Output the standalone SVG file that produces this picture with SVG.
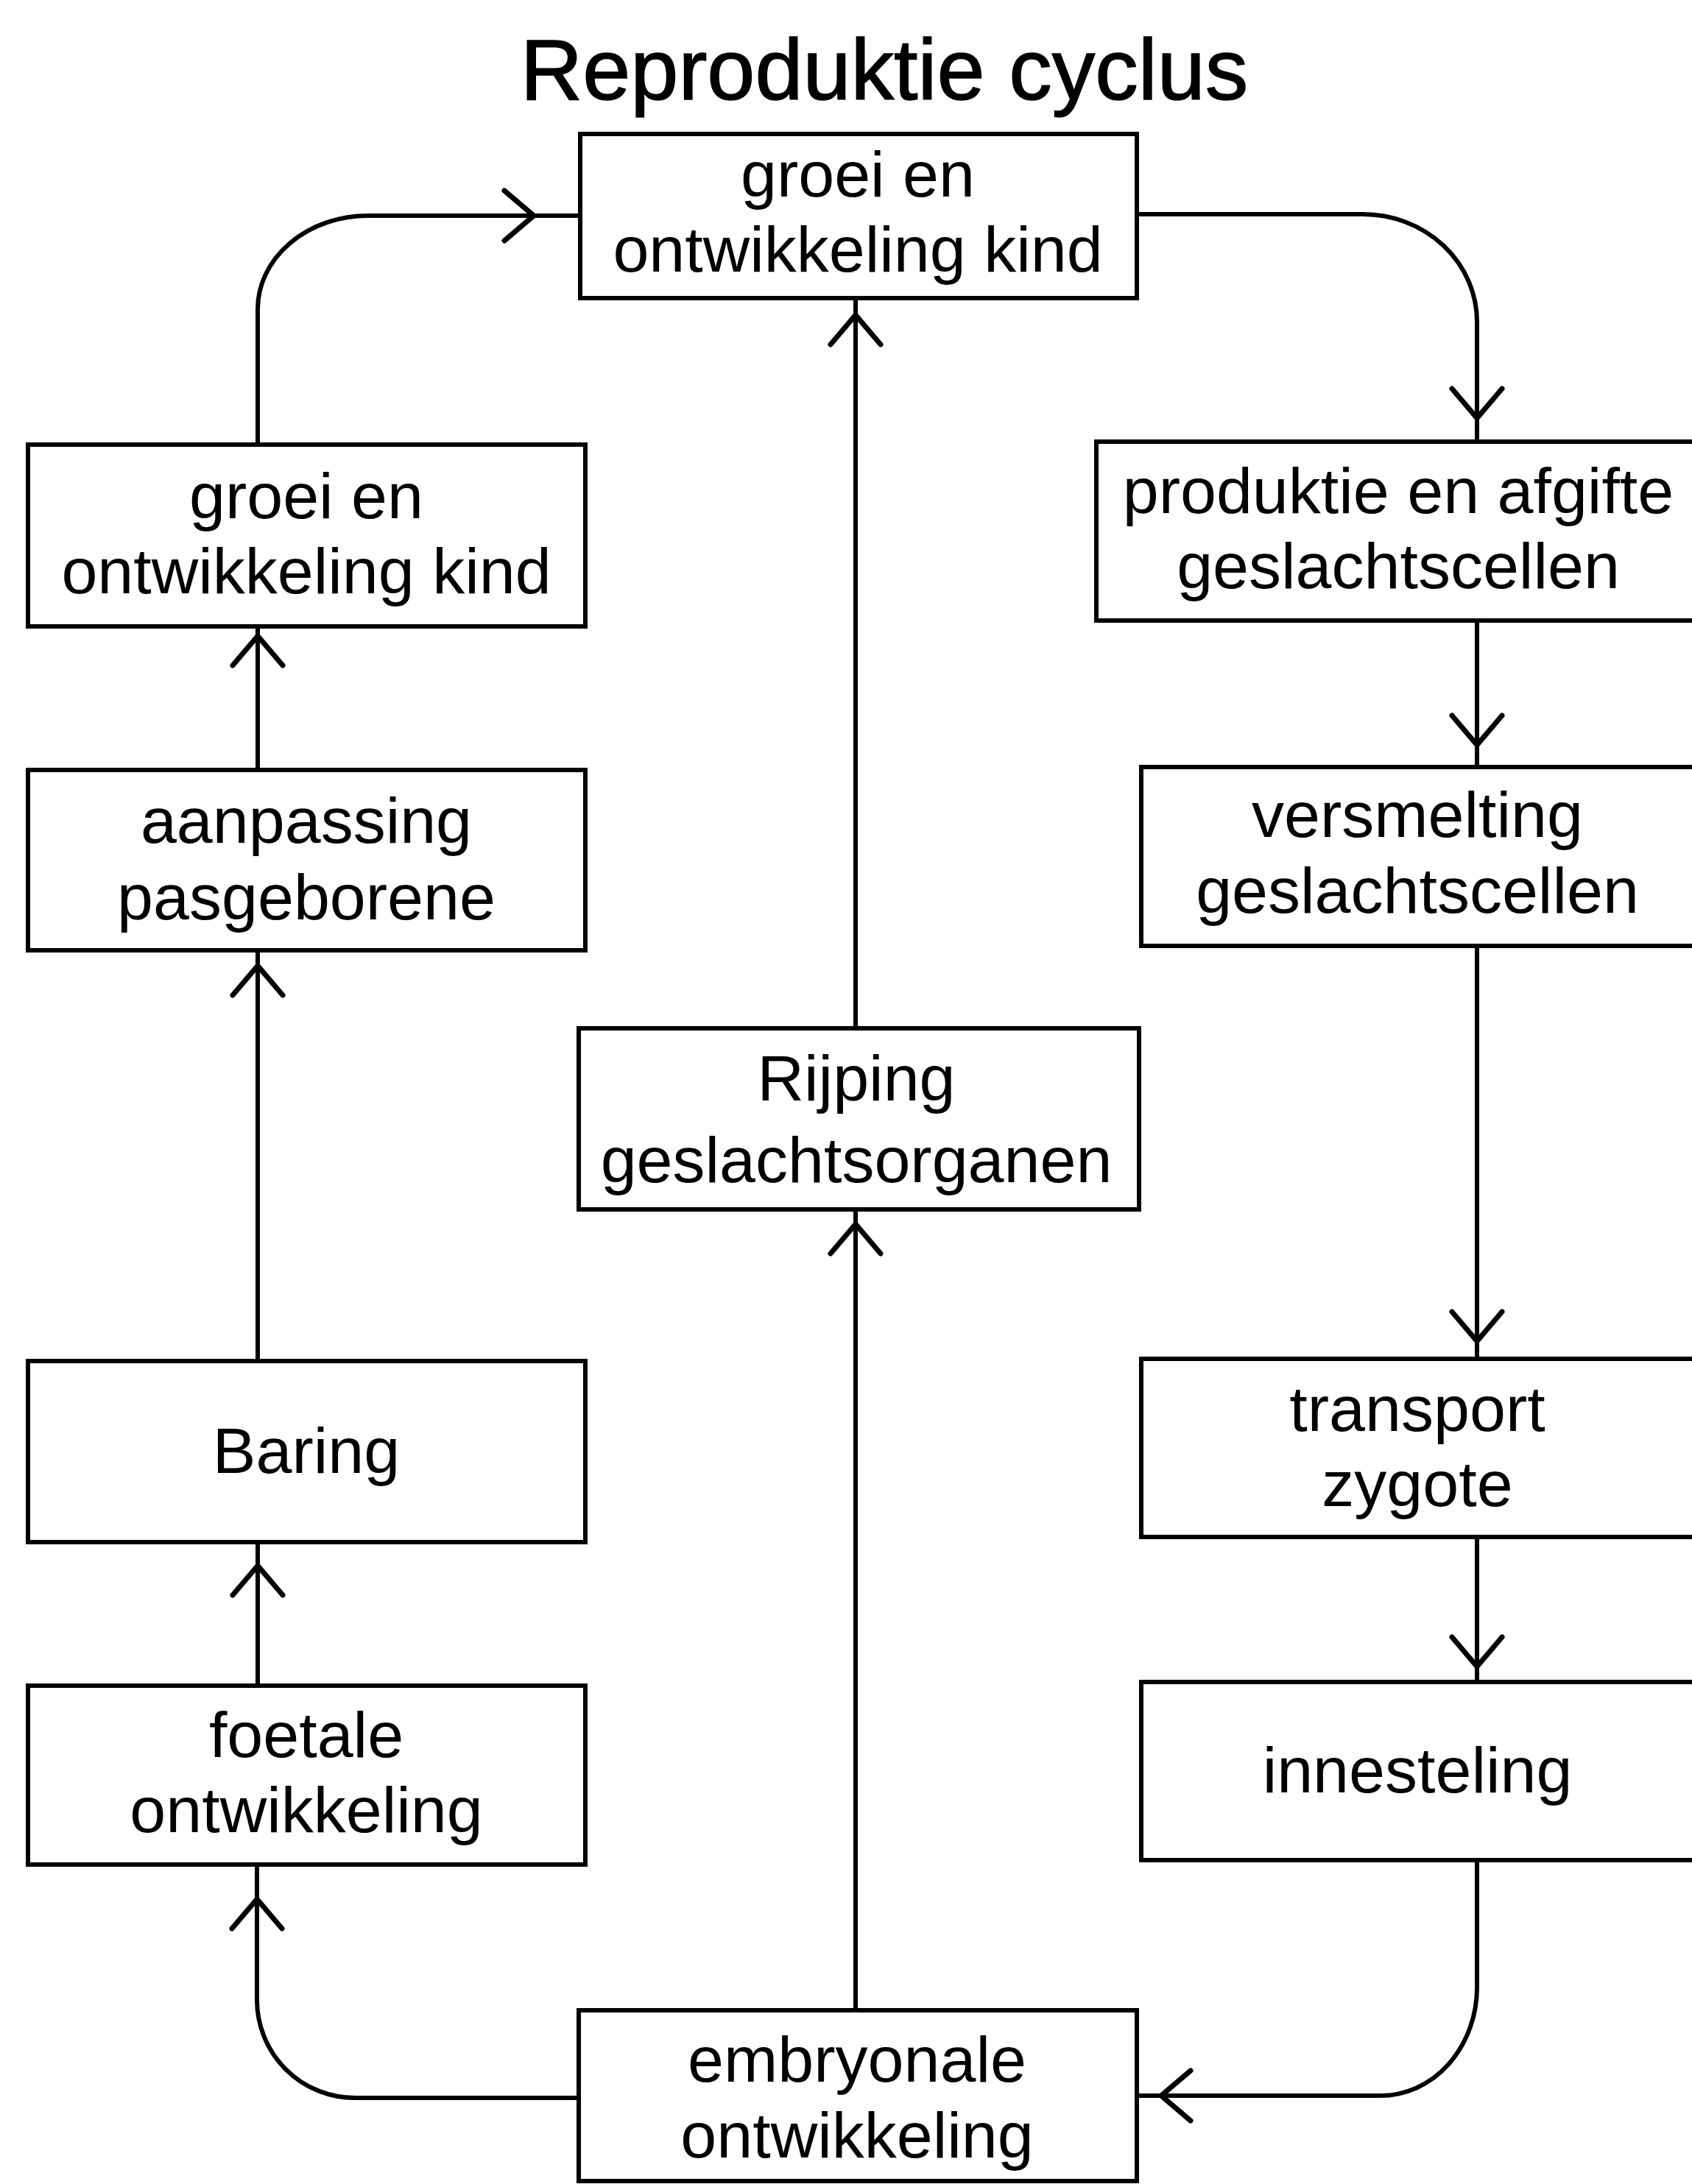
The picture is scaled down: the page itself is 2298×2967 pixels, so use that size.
<svg xmlns="http://www.w3.org/2000/svg" xmlns:xlink="http://www.w3.org/1999/xlink" width="2298" height="2967" viewBox="0 0 2298 2967">
  <style>
    .box { fill: #ffffff; stroke: #000000; stroke-width: 6; }
    .lbl { font-family: "Liberation Sans", Arial, Helvetica, sans-serif; font-size: 88px; fill: #000000; text-anchor: middle; }
    .title { font-family: "Liberation Sans", Arial, Helvetica, sans-serif; font-size: 117px; fill: #000000; text-anchor: middle; stroke: #000000; stroke-width: 1.5; }
    .line { fill: none; stroke: #000000; stroke-width: 6; }
    .head { fill: none; stroke: #000000; stroke-width: 7; stroke-linecap: round; stroke-linejoin: miter; }
  </style>
  <defs>
    <path id="chev" class="head" d="M -34 40 L 0 0 L 34 40"/>
  </defs>
  <rect x="0" y="0" width="2298" height="2967" fill="#ffffff"/>

  <text id="title" class="title" x="1201" y="135">Reproduktie cyclus</text>

  <g id="connectors">
    <path class="line" d="M350 604 L350 420 A150 127 0 0 1 500 293 L788 293"/>
    <path class="line" d="M350 1046 L350 851"/>
    <path class="line" d="M350 1849 L350 1291"/>
    <path class="line" d="M350 2290 L350 2095"/>
    <path class="line" d="M786 2850 L482 2850 A133 133 0 0 1 349 2717 L349 2533"/>
    <path class="line" d="M1544 291 L1851 291 A155 146 0 0 1 2006 437 L2006 600"/>
    <path class="line" d="M2006 843 L2006 1042"/>
    <path class="line" d="M2006 1285 L2006 1846"/>
    <path class="line" d="M2006 2088 L2006 2285"/>
    <path class="line" d="M2006 2527 L2006 2700 A131 147 0 0 1 1875 2847 L1544 2847"/>
    <path class="line" d="M1162 2731 L1162 1643"/>
    <path class="line" d="M1162 1397 L1162 405"/>

    <use xlink:href="#chev" href="#chev" transform="translate(725 293) rotate(90)"/>
    <use xlink:href="#chev" href="#chev" transform="translate(2006 568) rotate(180)"/>
    <use xlink:href="#chev" href="#chev" transform="translate(2006 1012) rotate(180)"/>
    <use xlink:href="#chev" href="#chev" transform="translate(2006 1822) rotate(180)"/>
    <use xlink:href="#chev" href="#chev" transform="translate(2006 2264) rotate(180)"/>
    <use xlink:href="#chev" href="#chev" transform="translate(1577 2847) rotate(-90)"/>
    <use xlink:href="#chev" href="#chev" transform="translate(349 2580)"/>
    <use xlink:href="#chev" href="#chev" transform="translate(350 2127)"/>
    <use xlink:href="#chev" href="#chev" transform="translate(350 1312)"/>
    <use xlink:href="#chev" href="#chev" transform="translate(350 864)"/>
    <use xlink:href="#chev" href="#chev" transform="translate(1162 1663)"/>
    <use xlink:href="#chev" href="#chev" transform="translate(1162 428)"/>
  </g>

  <g id="node-top-groei">
    <rect class="box" x="788" y="182" width="756" height="223"/>
    <text class="lbl" x="1165" y="267">groei en</text>
    <text class="lbl" x="1165" y="369">ontwikkeling kind</text>
  </g>

  <g id="node-left-groei">
    <rect class="box" x="38" y="604" width="757" height="247"/>
    <text class="lbl" x="416" y="704">groei en</text>
    <text class="lbl" x="416" y="806">ontwikkeling kind</text>
  </g>

  <g id="node-aanpassing">
    <rect class="box" x="38" y="1046" width="757" height="245"/>
    <text class="lbl" x="416" y="1145">aanpassing</text>
    <text class="lbl" x="416" y="1249">pasgeborene</text>
  </g>

  <g id="node-baring">
    <rect class="box" x="38" y="1849" width="757" height="246"/>
    <text class="lbl" x="416" y="2001">Baring</text>
  </g>

  <g id="node-foetale">
    <rect class="box" x="38" y="2290" width="757" height="243"/>
    <text class="lbl" x="416" y="2387">foetale</text>
    <text class="lbl" x="416" y="2489">ontwikkeling</text>
  </g>

  <g id="node-rijping">
    <rect class="box" x="786" y="1397" width="761" height="246"/>
    <text class="lbl" x="1163" y="1495">Rijping</text>
    <text class="lbl" x="1163" y="1606">geslachtsorganen</text>
  </g>

  <g id="node-embryonale">
    <rect class="box" x="786" y="2731" width="758" height="232"/>
    <text class="lbl" x="1164" y="2828">embryonale</text>
    <text class="lbl" x="1164" y="2931">ontwikkeling</text>
  </g>

  <g id="node-produktie">
    <rect class="box" x="1489" y="600" width="850" height="243"/>
    <text class="lbl" x="1899" y="697">produktie en afgifte</text>
    <text class="lbl" x="1899" y="799">geslachtscellen</text>
  </g>

  <g id="node-versmelting">
    <rect class="box" x="1550" y="1042" width="800" height="243"/>
    <text class="lbl" x="1925" y="1137">versmelting</text>
    <text class="lbl" x="1925" y="1240">geslachtscellen</text>
  </g>

  <g id="node-transport">
    <rect class="box" x="1550" y="1846" width="800" height="242"/>
    <text class="lbl" x="1925" y="1944">transport</text>
    <text class="lbl" x="1925" y="2046">zygote</text>
  </g>

  <g id="node-innesteling">
    <rect class="box" x="1550" y="2285" width="800" height="242"/>
    <text class="lbl" x="1925" y="2435">innesteling</text>
  </g>
</svg>
